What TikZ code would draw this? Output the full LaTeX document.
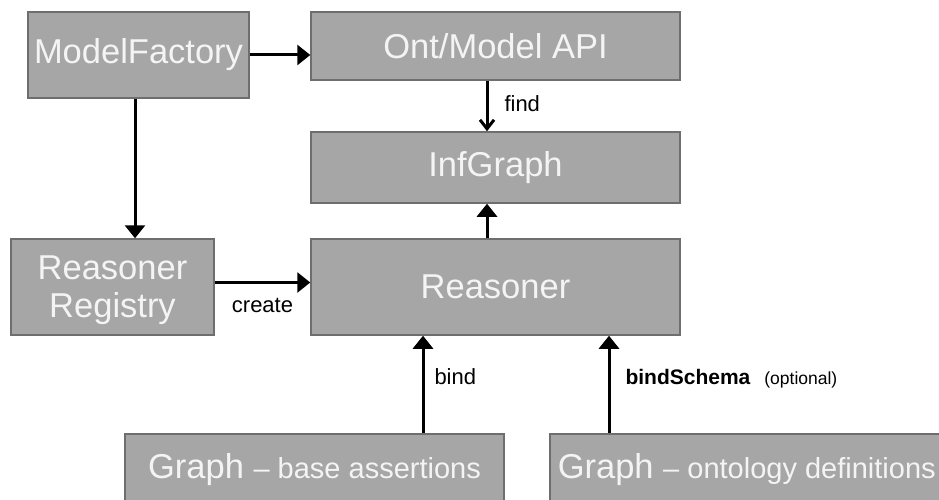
\documentclass[tikz,border=0pt]{standalone}
\usepackage{fontspec}
\setmainfont{Liberation Sans}
\usetikzlibrary{arrows.meta}
\definecolor{boxgray}{HTML}{A6A6A6}
\definecolor{boxline}{HTML}{6E6E6E}
\definecolor{boxtext}{HTML}{F4F4F4}

\begin{document}
\begin{tikzpicture}[x=1pt, y=-1pt, >={Triangle[width=20pt,length=13pt]},
    box/.style={draw=boxline, line width=1.5pt, fill=boxgray, text=boxtext,
        inner sep=0pt, align=center, font=\fontsize{34.5}{38}\selectfont},
    arr/.style={->, line width=3pt},
    lbl/.style={inner sep=0pt, font=\fontsize{22}{22}\selectfont}]
\useasboundingbox (0,0) rectangle (939,500);
\clip (0,0) rectangle (939,500);

% top row and the middle column
\node (mf)  at (138.5,55)  [box, minimum width=221pt, minimum height=86pt]{ModelFactory};
\node (api) at (495.5,46)  [box, minimum width=369pt, minimum height=68pt]{Ont/Model API};
\node (inf) at (495.5,167.5)[box, minimum width=369pt, minimum height=71pt]{InfGraph};
\node (reg) at (112.5,287) [box, minimum width=203pt, minimum height=96pt, text depth=0pt]{Reasoner\\Registry};
\node (rsn) at (495.5,287) [box, minimum width=369pt, minimum height=96pt]{Reasoner};

% the two graphs run off the bottom edge
\node (base) at (314.5,433)[box, anchor=north, minimum width=379pt, text height=45pt, text depth=40pt]
    {Graph {\fontsize{29}{29}\selectfont -- base assertions}};
\node (onto) at (549,433)  [box, anchor=north west, inner xsep=8pt, text height=45pt, text depth=40pt]
    {Graph {\fontsize{29}{29}\selectfont -- ontology definitions}};

\draw[arr] (mf.east) -- (mf.east -| api.west);
\draw[arr] ([xshift=-3.5pt]mf.south) -- ([xshift=-3.5pt]mf.south |- reg.north);
\draw[arr, -{Straight Barb[width=14pt,length=9pt]}] ([xshift=-8.5pt]api.south) -- ([xshift=-8.5pt]inf.north)
    node[lbl, pos=.6, anchor=base west, xshift=16pt]{find};
\draw[arr] ([xshift=-8.5pt]rsn.north) -- ([xshift=-8.5pt]inf.south);
\draw[arr] ([yshift=4.5pt]reg.east) -- ([yshift=4.5pt]reg.east -| rsn.west)
    node[lbl, midway, anchor=base, yshift=-30pt]{create};
\draw[arr] ([xshift=-72.5pt]rsn.south |- base.north) -- ([xshift=-72.5pt]rsn.south)
    node[lbl, midway, anchor=base west, xshift=10pt]{bind};
\draw[arr] ([xshift=113.5pt]rsn.south |- onto.north) -- ([xshift=113.5pt]rsn.south)
    node[lbl, midway, anchor=base west, xshift=15pt]
    {{\fontsize{21}{21}\selectfont\bfseries bindSchema}\hspace{14pt}{\fontsize{17.5}{17.5}\selectfont (optional)}};

\end{tikzpicture}
\end{document}
